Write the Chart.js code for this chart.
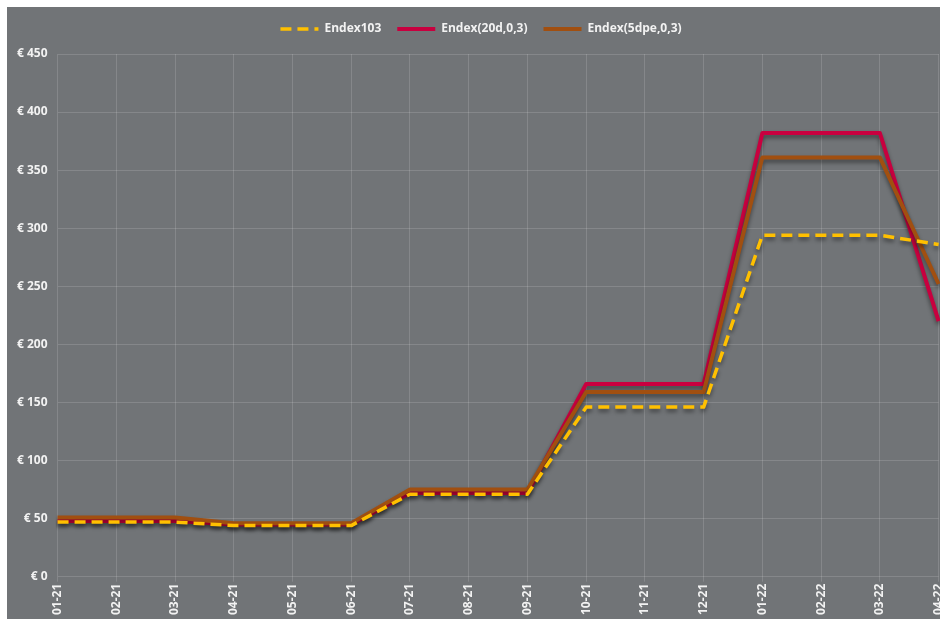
<!DOCTYPE html>
<html>
<head>
<meta charset="utf-8">
<script src="https://cdn.jsdelivr.net/npm/chart.js@4"></script>
<style>
    html, body { margin: 0; padding: 0; background: #ffffff; overflow: hidden; }
    #wrap { position: absolute; left: 7px; top: 7px; width: 948px; height: 612px; background: #717477; }
</style>
</head>
<body>
<div id="wrap"><canvas id="endexChart"></canvas></div>
<script>
const months = ["01-21", "02-21", "03-21", "04-21", "05-21", "06-21", "07-21", "08-21",
    "09-21", "10-21", "11-21", "12-21", "01-22", "02-22", "03-22", "04-22"];
const endex103 = [47, 47, 47, 44, 44, 44, 71, 71, 71, 146, 146, 146, 294, 294, 294, 286];
const endex20d = [48, 48, 48, 45, 45, 45, 72, 72, 72, 166, 166, 166, 382, 382, 382, 220];
const endex5dpe = [51, 51, 51, 46, 46, 46, 75, 75, 75, 159, 159, 159, 361, 361, 361, 252];

const shadowPlugin = {
    id: "lineShadow",
    beforeDatasetDraw(chart) {
        const ctx = chart.ctx;
        ctx.save();
        ctx.shadowColor = "rgba(0,0,0,0.45)";
        ctx.shadowBlur = 4;
        ctx.shadowOffsetY = 3;
    },
    afterDatasetDraw(chart) {
        chart.ctx.restore();
    },
};

// a little more room under the legend
const legendGap = {
    id: "legendGap",
    beforeInit(chart) {
        const origFit = chart.legend.fit;
        chart.legend.fit = function () {
            origFit.bind(chart.legend)();
            this.height += 9;
        };
    },
};

const ctx = document.getElementById("endexChart");
new Chart(ctx, {
    type: "line",
    data: {
        labels: months,
        datasets: [
            {
                label: "Endex103",
                data: endex103,
                borderColor: "#ffc000",
                backgroundColor: "#ffc000",
                borderWidth: 3.5,
                borderDash: [11, 6],
                order: 0,
            },
            {
                label: "Endex(20d,0,3)",
                data: endex20d,
                borderColor: "#c8003f",
                backgroundColor: "#c8003f",
                borderWidth: 4,
                order: 2,
            },
            {
                label: "Endex(5dpe,0,3)",
                data: endex5dpe,
                borderColor: "#a14f10",
                backgroundColor: "#a14f10",
                borderWidth: 4,
                order: 1,
            },
        ],
    },
    plugins: [shadowPlugin, legendGap],
    options: {
        responsive: true,
        maintainAspectRatio: false,
        animation: false,
        layout: { padding: { top: 0, right: 0, left: 0, bottom: 2 } },
        elements: {
            point: { radius: 0, hoverRadius: 0 },
            line: { tension: 0, borderJoinStyle: "round", borderCapStyle: "butt" },
        },
        plugins: {
            legend: {
                position: "top",
                labels: {
                    usePointStyle: true,
                    pointStyle: "line",
                    pointStyleWidth: 38,
                    color: "#f2f2f2",
                    padding: 16,
                    font: { family: "Open Sans", size: 12, weight: "bold" },
                    sort: (a, b) => a.datasetIndex - b.datasetIndex,
                    generateLabels: function (chart) {
                        return chart.data.datasets.map((ds, i) => ({
                            text: ds.label,
                            datasetIndex: i,
                            fillStyle: ds.borderColor,
                            strokeStyle: ds.borderColor,
                            lineWidth: ds.borderWidth,
                            lineDash: ds.borderDash || [],
                            pointStyle: "line",
                            fontColor: "#f2f2f2",
                            hidden: !chart.isDatasetVisible(i),
                        }));
                    },
                },
            },
            tooltip: { enabled: false },
        },
        scales: {
            x: {
                offset: false,
                grid: { color: "rgba(255,255,255,0.14)", drawTicks: true, tickLength: 5 },
                border: { display: false },
                ticks: {
                    color: "#f2f2f2",
                    maxRotation: 90,
                    minRotation: 90,
                    autoSkip: false,
                    padding: 2,
                    font: { family: "Open Sans", size: 12, weight: "bold" },
                },
            },
            y: {
                min: 0,
                max: 450,
                grid: { color: "rgba(255,255,255,0.14)", drawTicks: false },
                border: { display: false },
                ticks: {
                    stepSize: 50,
                    color: "#f2f2f2",
                    padding: 10,
                    font: { family: "Open Sans", size: 12, weight: "bold" },
                    callback: (v) => "€ " + v,
                },
            },
        },
    },
});
</script>
</body>
</html>
